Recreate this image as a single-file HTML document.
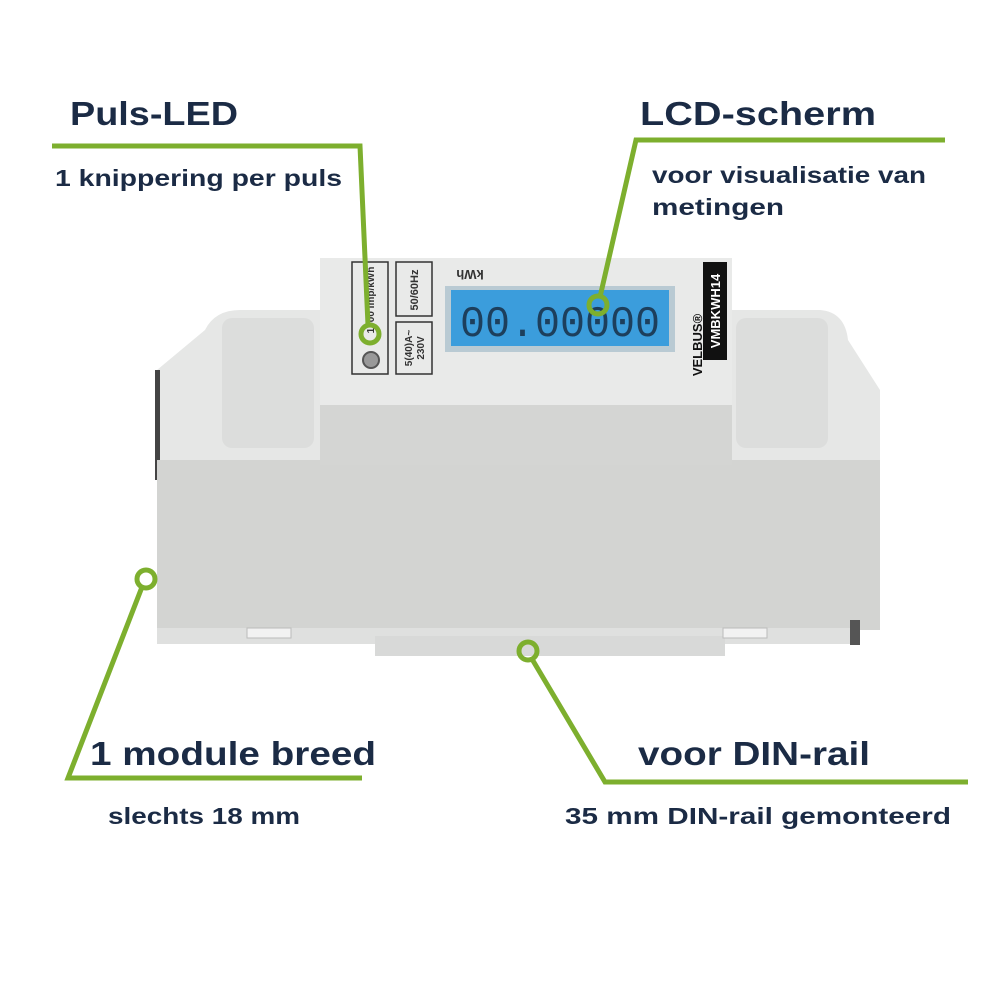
<!DOCTYPE html>
<html><head><meta charset="utf-8"><style>
html,body{margin:0;padding:0;background:#fff}
svg{display:block}
.t{font-family:"Liberation Sans",sans-serif;fill:#1b2b45;font-weight:bold}
.s{font-family:"Liberation Sans",sans-serif;fill:#1b2b45;font-weight:bold}
</style></head><body>
<svg width="1000" height="1000" viewBox="0 0 1000 1000" xmlns="http://www.w3.org/2000/svg">
<path d="M157 370 L205 330 Q215 310 240 310 L320 310 L320 520 L157 520 Z" fill="#e6e7e6"/>
<path d="M732 310 L820 310 Q845 312 848 340 L880 390 L880 520 L732 520 Z" fill="#e6e7e6"/>
<rect x="222" y="318" width="92" height="130" rx="10" fill="#dcdddc"/>
<rect x="736" y="318" width="92" height="130" rx="10" fill="#dcdddc"/>
<rect x="155" y="370" width="5" height="110" fill="#444"/>
<rect x="320" y="258" width="412" height="152" fill="#e9eae9"/>
<rect x="157" y="460" width="723" height="170" fill="#d3d4d2"/>
<rect x="320" y="405" width="412" height="60" fill="#d4d5d3"/>
<rect x="157" y="628" width="700" height="16" fill="#dfe0df"/>
<rect x="375" y="636" width="350" height="20" fill="#d8d9d8"/>
<rect x="850" y="620" width="10" height="25" fill="#555"/>
<rect x="247" y="628" width="44" height="10" fill="#f2f2f2" stroke="#bbb"/>
<rect x="723" y="628" width="44" height="10" fill="#f2f2f2" stroke="#bbb"/>
<rect x="352" y="262" width="36" height="112" fill="none" stroke="#333" stroke-width="1.5"/>
<rect x="396" y="262" width="36" height="54" fill="none" stroke="#333" stroke-width="1.5"/>
<rect x="396" y="322" width="36" height="52" fill="none" stroke="#333" stroke-width="1.5"/>
<text transform="translate(418,290) rotate(-90)" text-anchor="middle" font-family="Liberation Sans" font-size="11" font-weight="bold" fill="#333">50/60Hz</text>
<text transform="translate(412,348) rotate(-90)" text-anchor="middle" font-family="Liberation Sans" font-size="10" font-weight="bold" fill="#333">5(40)A~</text>
<text transform="translate(424,348) rotate(-90)" text-anchor="middle" font-family="Liberation Sans" font-size="10" font-weight="bold" fill="#333">230V</text>
<text transform="translate(374,300) rotate(-90)" text-anchor="middle" font-family="Liberation Sans" font-size="10" font-weight="bold" fill="#333">1000 Imp/kWh</text>
<circle cx="371" cy="360" r="8" fill="#999" stroke="#555" stroke-width="2"/>
<text transform="translate(470,270) rotate(180)" text-anchor="middle" font-family="Liberation Sans" font-size="13" font-weight="bold" fill="#333">kWh</text>
<rect x="445" y="286" width="230" height="66" fill="#b9cad3"/>
<rect x="451" y="290" width="218" height="56" fill="#3b9ddc"/>
<text x="460" y="336" textLength="200" lengthAdjust="spacingAndGlyphs" font-family="Liberation Mono" font-size="44" fill="#1d3f5c">00.00000</text>
<rect x="703" y="262" width="24" height="98" fill="#111"/>
<text transform="translate(720,311) rotate(-90)" text-anchor="middle" font-family="Liberation Sans" font-size="13" font-weight="bold" fill="#fff">VMBKWH14</text>
<text transform="translate(702,345) rotate(-90)" text-anchor="middle" font-family="Liberation Sans" font-size="13" font-weight="bold" fill="#111">VELBUS®</text>
<g stroke="#7daf2e" stroke-width="5" fill="none">
<polyline points="52,146 360,146 368,325"/>
<circle cx="370" cy="334" r="9"/>
<polyline points="945,140 636,140 600,297"/>
<circle cx="598" cy="305" r="9"/>
<polyline points="142,587 68,778 362,778"/>
<circle cx="146" cy="579" r="9"/>
<polyline points="532,659 605,782 968,782"/>
<circle cx="528" cy="651" r="9"/>
</g>
<text class="t" x="70" y="125" font-size="33" textLength="168" lengthAdjust="spacingAndGlyphs">Puls-LED</text>
<text class="s" x="55" y="186" font-size="23" textLength="287" lengthAdjust="spacingAndGlyphs">1 knippering per puls</text>
<text class="t" x="640" y="125" font-size="33" textLength="236" lengthAdjust="spacingAndGlyphs">LCD-scherm</text>
<text class="s" x="652" y="183" font-size="23" textLength="274" lengthAdjust="spacingAndGlyphs">voor visualisatie van</text>
<text class="s" x="652" y="215" font-size="23" textLength="132" lengthAdjust="spacingAndGlyphs">metingen</text>
<text class="t" x="90" y="765" font-size="33" textLength="286" lengthAdjust="spacingAndGlyphs">1 module breed</text>
<text class="s" x="108" y="824" font-size="23" textLength="192" lengthAdjust="spacingAndGlyphs">slechts 18 mm</text>
<text class="t" x="638" y="765" font-size="33" textLength="232" lengthAdjust="spacingAndGlyphs">voor DIN-rail</text>
<text class="s" x="565" y="824" font-size="23" textLength="386" lengthAdjust="spacingAndGlyphs">35 mm DIN-rail gemonteerd</text>
</svg>
</body></html>
